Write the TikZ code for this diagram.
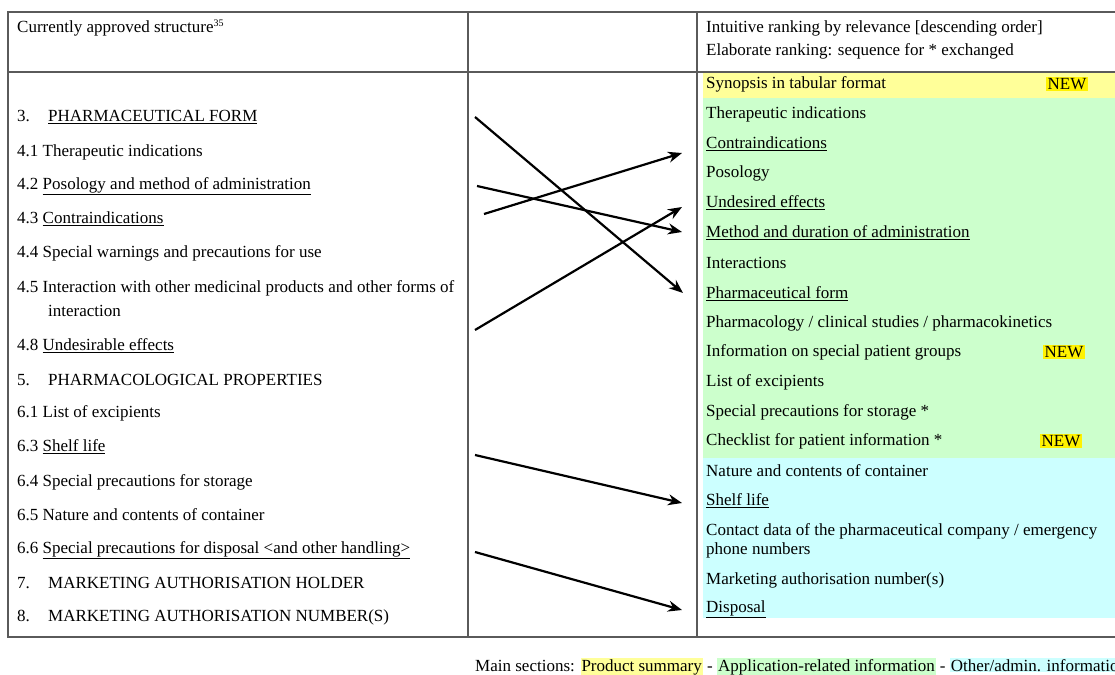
\documentclass[tikz,border=0pt]{standalone}
\usepackage{fontspec}
\setmainfont{Liberation Serif}
\usetikzlibrary{arrows.meta,positioning}
\definecolor{bandyellow}{HTML}{FFFF99}
\definecolor{bandgreen}{HTML}{CCFFCC}
\definecolor{bandcyan}{HTML}{CCFFFF}
\definecolor{rulegray}{HTML}{5A5A5A}

\begin{document}
\begin{tikzpicture}[x=1pt,y=-1pt,>={Stealth[length=14pt,width=11pt]},item/.style={anchor=west,inner sep=0pt,font=\fontsize{17}{20}\selectfont},newtag/.style={anchor=west,fill=yellow,inner sep=1.5pt,font=\fontsize{17}{20}\selectfont},link/.style={->,line width=2.2pt},grid/.style={draw=rulegray,line width=1.2pt}]
  \clip (0,0) rectangle (1115,674);
  \fill[white] (0,0) rectangle (1115,674);
  % coloured bands of the right column
  \fill[bandyellow] (703,72) rectangle (1115,98);
  \fill[bandgreen] (703,98) rectangle (1115,458);
  \fill[bandcyan] (703,458) rectangle (1115,618);
  % table frame
  \draw[grid] (8,12) rectangle (1130,637);
  \draw[grid] (8,72) -- (1130,72);
  \draw[grid] (468,12) -- (468,637);
  \draw[grid] (697,12) -- (697,637);
  % header
  \node[item] (hleft) at (17,28) {Currently approved structure\textsuperscript{\fontsize{10}{10}\selectfont 35}};
  \node[item] (hright) at (706,28) {Intuitive ranking by relevance [descending order]};
  \node[item] (hright2) at (706,51) {Elaborate ranking: sequence for * exchanged};
  % currently approved structure
  \node[item] (l3) at (17,117) {\makebox[31pt][l]{3.}\underline{PHARMACEUTICAL FORM}};
  \node[item] (l41) at (17,152) {4.1 Therapeutic indications};
  \node[item] (l42) at (17,186) {4.2 \underline{Posology and method of administration}};
  \node[item] (l43) at (17,219) {4.3 \underline{Contraindications}};
  \node[item] (l44) at (17,253) {4.4 Special warnings and precautions for use};
  \node[item] (l45) at (17,288) {4.5 Interaction with other medicinal products and other forms of};
  \node[item] (l45b) at (48,311) {interaction};
  \node[item] (l48) at (17,346) {4.8 \underline{Undesirable effects}};
  \node[item] (l5) at (17,380) {\makebox[31pt][l]{5.}PHARMACOLOGICAL PROPERTIES};
  \node[item] (l61) at (17,413) {6.1 List of excipients};
  \node[item] (l63) at (17,447) {6.3 \underline{Shelf life}};
  \node[item] (l64) at (17,482) {6.4 Special precautions for storage};
  \node[item] (l65) at (17,515) {6.5 Nature and contents of container};
  \node[item] (l66) at (17,550) {6.6 \underline{Special precautions for disposal <and other handling>}};
  \node[item] (l7) at (17,583) {\makebox[31pt][l]{7.}MARKETING AUTHORISATION HOLDER};
  \node[item] (l8) at (17,617) {\makebox[31pt][l]{8.}MARKETING AUTHORISATION NUMBER(S)};
  % ranking by relevance
  \node[item] (r1) at (706,84) {Synopsis in tabular format};
  \node[newtag] (new1) at (1046,84) {NEW};
  \node[item] (r2) at (706,114) {Therapeutic indications};
  \node[item] (r3) at (706,144) {\underline{Contraindications}};
  \node[item] (r4) at (706,173) {Posology};
  \node[item] (r5) at (706,203) {\underline{Undesired effects}};
  \node[item] (r6) at (706,233) {\underline{Method and duration of administration}};
  \node[item] (r7) at (706,263) {Interactions};
  \node[item] (r8) at (706,294) {\underline{Pharmaceutical form}};
  \node[item] (r9) at (706,323) {Pharmacology / clinical studies / pharmacokinetics};
  \node[item] (r10) at (706,352) {Information on special patient groups};
  \node[newtag] (new2) at (1043,352) {NEW};
  \node[item] (r11) at (706,382) {List of excipients};
  \node[item] (r12) at (706,412) {Special precautions for storage *};
  \node[item] (r13) at (706,441) {Checklist for patient information *};
  \node[newtag] (new3) at (1040,441) {NEW};
  \node[item] (r14) at (706,471) {Nature and contents of container};
  \node[item] (r15) at (706,501) {\underline{Shelf life}};
  \node[item] (r16) at (706,531) {Contact data of the pharmaceutical company / emergency};
  \node[item] (r16b) at (706,550) {phone numbers};
  \node[item] (r17) at (706,580) {Marketing authorisation number(s)};
  \node[item] (r18) at (706,609) {\underline{Disposal}};
  % arrow ends in the middle column
  \coordinate (fForm) at (475,117);
  \coordinate (tForm) at (683,293);
  \coordinate (fPos) at (477,186);
  \coordinate (tPos) at (682,232);
  \coordinate (fContra) at (484,214);
  \coordinate (tContra) at (682,153);
  \coordinate (fUndes) at (475,330);
  \coordinate (tUndes) at (682,207);
  \coordinate (fShelf) at (475,455);
  \coordinate (tShelf) at (682,503);
  \coordinate (fDisp) at (475,552);
  \coordinate (tDisp) at (682,610);
  \draw[link] (fForm) -- (tForm);
  \draw[link] (fPos) -- (tPos);
  \draw[link] (fContra) -- (tContra);
  \draw[link] (fUndes) -- (tUndes);
  \draw[link] (fShelf) -- (tShelf);
  \draw[link] (fDisp) -- (tDisp);
  % legend
  \setlength{\fboxsep}{1pt}
  \node[item] (legend) at (475,667) {Main sections: \colorbox{bandyellow}{Product summary} - \colorbox{bandgreen}{Application-related information} - \colorbox{bandcyan}{Other/admin. information}};
\end{tikzpicture}
\end{document}
